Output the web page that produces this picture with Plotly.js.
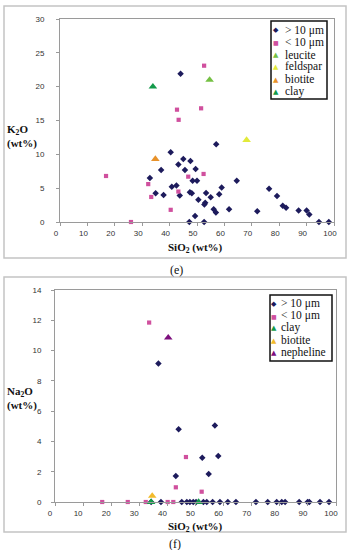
<!DOCTYPE html>
<html><head><meta charset="utf-8">
<script src="https://cdn.plot.ly/plotly-3.0.1.min.js"></script>
<style>html,body{margin:0;padding:0;background:#fff;overflow:hidden}#chart{width:353px;height:550px}</style>
</head><body><div id="chart"></div>
<script>
// ---------- Chart (e): K2O vs SiO2 ----------
const e_big_SiO2 = [44.0,57.0,40.4,45.0,47.6,43.2,36.9,45.6,49.5,32.8,48.4,50.0,64.5,40.8,42.5,53.3,59.0,47.4,48.1,34.9,37.8,43.7,55.0,58.1,53.0,52.7,50.5,56.1,56.9,61.7,49.3,47.2,52.6,76.3,79.2,81.3,82.5,72.0,87.1,90.0,91.0,94.5,98.1];
const e_big_K2O  = [21.9,11.5,10.3,9.3,9.0,8.5,7.7,7.7,7.85,6.5,6.1,6.1,6.1,5.2,5.4,4.3,5.1,4.4,4.25,4.25,4.0,3.9,3.65,4.1,2.85,2.6,3.3,1.9,1.4,1.9,0.9,0,0,4.9,3.85,2.4,2.1,1.6,1.7,1.7,1.1,0,0];
const e_small_SiO2 = [52.6,42.7,51.5,43.3,52.4,46.8,32.2,43.2,33.3,40.4,25.9,16.8];
const e_small_K2O  = [23.1,16.6,16.8,15.1,7.1,6.7,5.6,4.5,3.7,1.8,0,6.8];
const e_leucite_SiO2 = [54.6],  e_leucite_K2O = [21.0];
const e_feldspar_SiO2 = [68.1], e_feldspar_K2O = [12.1];
const e_biotite_SiO2 = [34.8],  e_biotite_K2O = [9.3];
const e_clay_SiO2 = [33.9],     e_clay_K2O = [20.0];
const e_legend = ['> 10 μm','< 10 μm','leucite','feldspar','biotite','clay'];
const e_xticks = [0,10,20,30,40,50,60,70,80,90,100];
const e_yticks = [0,5,10,15,20,25,30];

// ---------- Chart (f): Na2O vs SiO2 ----------
const f_big_SiO2 = [36.8,44.0,56.9,52.4,58.1,43.0,54.7,34.2,37.7,45.1,46.9,48.0,49.2,50.2,52.8,54.0,56.1,58.7,61.5,64.4,71.5,75.7,78.9,80.7,81.9,86.9,89.9,90.5,94.3,97.5];
const f_big_Na2O = [9.15,4.8,5.05,2.93,3.04,1.72,1.85,0,0,0,0,0,0,0,0,0,0,0,0,0,0,0,0,0,0,0,0,0,0,0];
const f_small_SiO2 = [33.5,46.6,43.0,52.2,16.8,25.9,32.3,40.1,42.1];
const f_small_Na2O = [11.85,2.97,0.97,0.68,0,0,0,0,0];
const f_clay_SiO2 = [34.2,51.1],  f_clay_Na2O = [0,0];
const f_biotite_SiO2 = [34.6],    f_biotite_Na2O = [0.4];
const f_nepheline_SiO2 = [40.3],  f_nepheline_Na2O = [10.85];
const f_legend = ['> 10 μm','< 10 μm','clay','biotite','nepheline'];
const f_xticks = [0,10,20,30,40,50,60,70,80,90,100];
const f_yticks = [0,2,4,6,8,10,12,14];

// ---------- styles ----------
const W = 353, H = 550;
const px = v => v / W, py = v => 1 - v / H;
const C = {navy:'#1d1b5c', pink:'#d0509e', leucite:'#74c043', feldspar:'#e2ea3a',
           biotiteE:'#e8922a', clay:'#139a4a', biotiteF:'#f2bb2c', nepheline:'#7d0f7d'};

function sc(x, y, name, sym, size, color, xa, ya) {
  return {type:'scatter', mode:'markers', x:x, y:y, name:name, xaxis:xa, yaxis:ya,
          cliponaxis:false, showlegend:false, hoverinfo:'x+y',
          marker:{symbol:sym, size:size, color:color, line:{width:0}}};
}
const traces = [
  sc(e_big_SiO2, e_big_K2O, e_legend[0], 'diamond', 5, C.navy, 'x', 'y'),
  sc(e_small_SiO2, e_small_K2O, e_legend[1], 'square', 4.2, C.pink, 'x', 'y'),
  sc(e_leucite_SiO2, e_leucite_K2O, e_legend[2], 'triangle-up', 7.5, C.leucite, 'x', 'y'),
  sc(e_feldspar_SiO2, e_feldspar_K2O, e_legend[3], 'triangle-up', 7.5, C.feldspar, 'x', 'y'),
  sc(e_biotite_SiO2, e_biotite_K2O, e_legend[4], 'triangle-up', 7.5, C.biotiteE, 'x', 'y'),
  sc(e_clay_SiO2, e_clay_K2O, e_legend[5], 'triangle-up', 7.5, C.clay, 'x', 'y'),
  sc(f_big_SiO2, f_big_Na2O, f_legend[0], 'diamond', 5, C.navy, 'x2', 'y2'),
  sc(f_small_SiO2, f_small_Na2O, f_legend[1], 'square', 4.2, C.pink, 'x2', 'y2'),
  sc(f_clay_SiO2, f_clay_Na2O, f_legend[2], 'triangle-up', 7.5, C.clay, 'x2', 'y2'),
  sc(f_biotite_SiO2, f_biotite_Na2O, f_legend[3], 'triangle-up', 7.5, C.biotiteF, 'x2', 'y2'),
  sc(f_nepheline_SiO2, f_nepheline_Na2O, f_legend[4], 'triangle-up', 7.5, C.nepheline, 'x2', 'y2')
];

const tickFont = {family:'Liberation Sans, Arial, sans-serif', size:8, color:'#333'};
function ax(extra) {
  return Object.assign({showgrid:false, zeroline:false, showline:true, mirror:true,
    linecolor:'#9a9a9a', linewidth:1, ticks:'outside', ticklen:3, tickcolor:'#9a9a9a',
    tickfont:tickFont, fixedrange:true, tickmode:'array'}, extra);
}
const serif = 'Liberation Serif, Times New Roman, serif';
const annotations = [];
function txt(text, x, y, opts) {
  annotations.push(Object.assign({xref:'paper', yref:'paper', x:px(x), y:py(y), text:text,
    showarrow:false, xanchor:'left', yanchor:'middle', align:'left',
    font:{family:serif, size:11, color:'#111'}}, opts || {}));
}
// axis titles (one annotation per line)
txt('<b>K<sub>2</sub>O</b>', 5, 129.5);
txt('<b>(wt%)</b>', 5, 143.5);
txt('<b>SiO<sub>2</sub> (wt%)</b>', 195, 248, {xanchor:'center'});
txt('<b>Na<sub>2</sub>O</b>', 5, 391.5);
txt('<b>(wt%)</b>', 5, 405);
txt('<b>SiO<sub>2</sub> (wt%)</b>', 195, 527, {xanchor:'center'});
// captions
txt('(e)', 176, 270, {xanchor:'center', font:{family:serif, size:12, color:'#111'}});
txt('(f)', 175, 544, {xanchor:'center', font:{family:serif, size:12, color:'#111'}});
// legends
const eSym = [['◆',C.navy,7],['■',C.pink,6],['▲',C.leucite,7],['▲',C.feldspar,7],['▲',C.biotiteE,7],['▲',C.clay,7]];
const eRowY = [30,42.3,54.5,66.7,79,91.2];
e_legend.forEach((lab,i) => {
  txt(lab, 283, eRowY[i], {font:{family:serif, size:11.5, color:'#111'}});
  txt(eSym[i][0], 276, eRowY[i]+0.5, {xanchor:'center', font:{family:'DejaVu Sans', size:eSym[i][2], color:eSym[i][1]}});
});
const fSym = [['◆',C.navy,7],['■',C.pink,6],['▲',C.clay,7],['▲',C.biotiteF,7],['▲',C.nepheline,7]];
const fRowY = [303.3,315.6,327.8,340,352.3];
f_legend.forEach((lab,i) => {
  txt(lab, 279, fRowY[i], {font:{family:serif, size:11.5, color:'#111'}});
  txt(fSym[i][0], 274, fRowY[i]+0.5, {xanchor:'center', font:{family:'DejaVu Sans', size:fSym[i][2], color:fSym[i][1]}});
});

const shapes = [
  {type:'rect', xref:'paper', yref:'paper', x0:px(4), x1:px(346), y0:py(258), y1:py(6), line:{color:'#c4c4c4', width:1.5}},
  {type:'rect', xref:'paper', yref:'paper', x0:px(4), x1:px(346), y0:py(532), y1:py(277), line:{color:'#c4c4c4', width:1.5}},
  {type:'rect', xref:'paper', yref:'paper', x0:px(271), x1:px(327), y0:py(99), y1:py(21), line:{color:'#111', width:1.5}},
  {type:'rect', xref:'paper', yref:'paper', x0:px(270), x1:px(332), y0:py(361), y1:py(295), line:{color:'#111', width:1.5}}
];

const layout = {
  width:W, height:H, margin:{l:0,r:0,t:0,b:0}, paper_bgcolor:'#fff', plot_bgcolor:'#fff',
  showlegend:false, font:{family:'Liberation Sans, Arial, sans-serif'},
  xaxis: ax({domain:[px(60),px(334)], anchor:'y', range:[0,100], tickvals:e_xticks, ticktext:e_xticks.map(String), ticklabelshift:-4}),
  yaxis: ax({domain:[py(222),py(19)], anchor:'x', range:[0,30], tickvals:e_yticks, ticktext:e_yticks.map(String), ticklabelstandoff:10}),
  xaxis2: ax({domain:[px(55),px(336)], anchor:'y2', range:[0,100], tickvals:f_xticks, ticktext:f_xticks.map(String), ticklabelshift:-5}),
  yaxis2: ax({domain:[py(502),py(290)], anchor:'x2', range:[0,14], tickvals:f_yticks, ticktext:f_yticks.map(String), ticklabelstandoff:8}),
  annotations:annotations, shapes:shapes
};
Plotly.newPlot('chart', traces, layout, {displayModeBar:false, staticPlot:true});
</script></body></html>
